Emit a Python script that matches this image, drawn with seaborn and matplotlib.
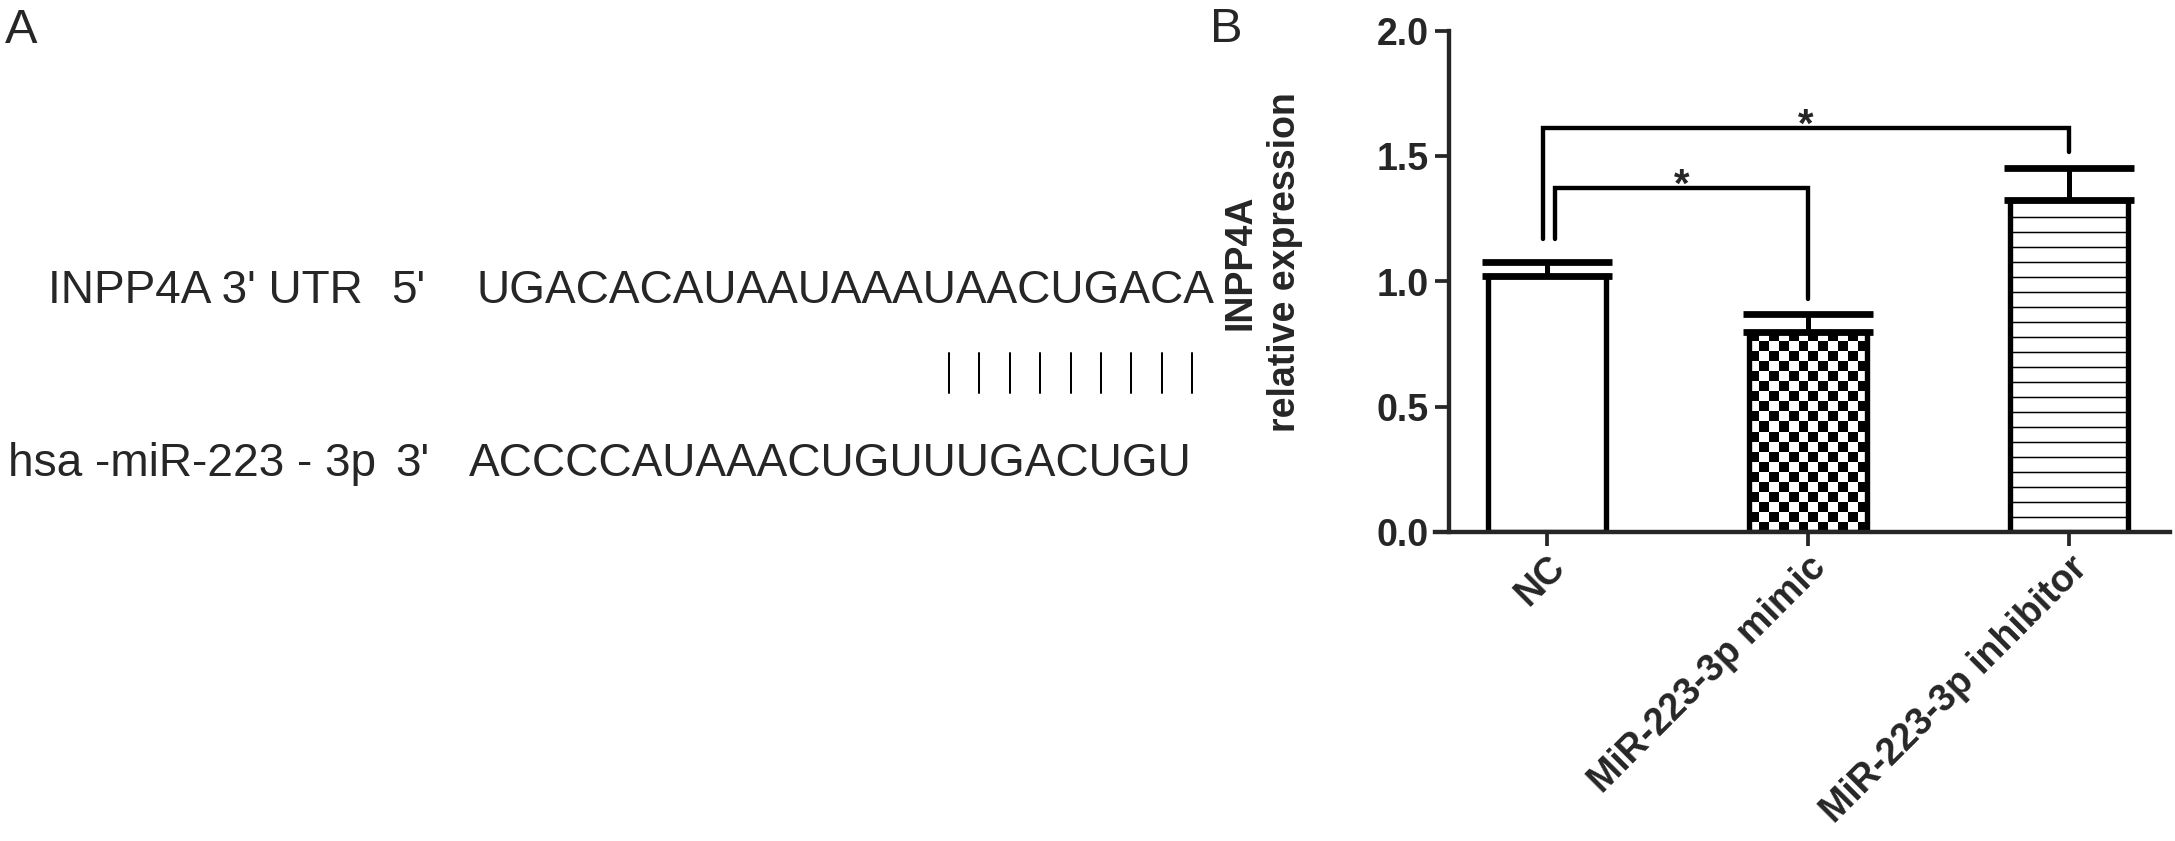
import numpy as np
import pandas as pd
import matplotlib.pyplot as plt
import seaborn as sns
from matplotlib.lines import Line2D
from matplotlib.ticker import FormatStrFormatter

# panel B data: mean relative expression and upper error (SEM)
groups = ["NC", "MiR-223-3p mimic", "MiR-223-3p inhibitor"]
means = [1.02, 0.80, 1.325]
sem = [0.057, 0.071, 0.129]

# significance brackets: (left bar, right bar), bracket height, leg ends
pairs = [(0, 2), (0, 1)]
bracket_y = [1.613, 1.373]
leg_left_end = [1.17, 1.17]
leg_right_end = [1.517, 0.93]
leg_left_shift = [-0.015, 0.03]
stars = ["*", "*"]

# panel A text
utr_label = "INPP4A 3' UTR"
utr_end = "5'"
utr_seq = "UGACACAUAAUAAAUAACUGACA"
mir_label = "hsa -miR-223 - 3p"
mir_end = "3'"
mir_seq = "ACCCCAUAAACUGUUUGACUGU"
n_pairs = 9

W, H, DPI = 2175, 841, 90
sns.set_style("ticks")
plt.rcParams["font.family"] = ["Liberation Sans", "DejaVu Sans"]
plt.rcParams["hatch.linewidth"] = 1.2
plt.rcParams["hatch.color"] = "black"

fig = plt.figure(figsize=(W / DPI, H / DPI), dpi=DPI, facecolor="white")
ax = fig.add_axes([1449 / W, 309 / H, (2170 - 1449) / W, (810 - 309) / H])

df = pd.DataFrame({"group": groups, "mean": means, "sem": sem})
sns.barplot(data=df, x="group", y="mean", order=groups, color="white", saturation=1,
            width=0.455, edgecolor="black", linewidth=4.3, errorbar=None, ax=ax)

ax.set_xlim(-0.3755, 2.387)
ax.set_ylim(0, 2)

bars = ax.patches
bars[2].set_hatch("-")

# checkerboard fill for the mimic bar
b = bars[1]
bx, bw, bh = b.get_x(), b.get_width(), b.get_height()
px_x = ax.transData.transform((1, 0))[0] - ax.transData.transform((0, 0))[0]
px_y = ax.transData.transform((0, 1))[1] - ax.transData.transform((0, 0))[1]
ncols = int(round(bw * px_x / 10))
nrows = int(round(bh * px_y / 10))
checker = np.add.outer(np.arange(nrows), np.arange(ncols)) % 2
b.set_facecolor("none")
im = ax.imshow(checker, cmap="gray_r", vmin=0, vmax=1, extent=[bx, bx + bw, 0, bh],
               origin="lower", interpolation="nearest", aspect="auto", zorder=0.5)
im.set_clip_path(b)
ax.set_xlim(-0.3755, 2.387)
ax.set_ylim(0, 2)

ax.errorbar(range(len(groups)), means, yerr=[np.zeros(len(groups)), sem], fmt="none",
            ecolor="black", elinewidth=4, capsize=52, capthick=5.4, zorder=3)

for (i, j), y, le, re, sh, s in zip(pairs, bracket_y, leg_left_end, leg_right_end,
                                    leg_left_shift, stars):
    xl = i + sh
    ax.plot([xl, xl, j, j], [le, y, y, re], color="black", lw=3.5,
            solid_joinstyle="miter", zorder=3)
    ax.text((xl + j) / 2, y - 0.035, s, ha="center", va="baseline",
            fontsize=32, fontweight="bold")

sns.despine(ax=ax)
for side in ["left", "bottom"]:
    ax.spines[side].set_linewidth(3.5)
ax.spines["bottom"].set_bounds(-0.3755 - 14 / px_x, 2.387)
ax.spines["left"].set_bounds(0, 2)

ax.set_yticks([0, 0.5, 1.0, 1.5, 2.0])
ax.yaxis.set_major_formatter(FormatStrFormatter("%.1f"))
ax.tick_params(axis="both", width=3, length=11, direction="out", labelsize=30)
ax.tick_params(axis="y", pad=5)
ax.tick_params(axis="x", pad=3)
for lbl in ax.get_yticklabels():
    lbl.set_fontweight("bold")
ax.set_xticks(range(len(groups)))
ax.set_xticklabels(groups, rotation=45, ha="right", va="top",
                   rotation_mode="anchor", fontweight="bold")
ax.set_xlabel("")
ax.set_ylabel("INPP4A\nrelative expression", fontsize=30, fontweight="bold",
              linespacing=1.3)
ax.yaxis.set_label_coords(-0.2025, 0.539)

# panel A: sequence alignment, one font size fitted to the UTR sequence width
renderer = fig.canvas.get_renderer()
probe = fig.text(0, 0, utr_seq, fontsize=40)
seq_fs = 40 * 740 / probe.get_window_extent(renderer).width
probe.remove()


def put_text(x_px, base_px, s):
    fig.text(x_px / W, 1 - base_px / H, s, fontsize=seq_fs, ha="left", va="baseline")


put_text(48, 303, utr_label)
put_text(391, 303, utr_end)
put_text(476, 303, utr_seq)
put_text(8, 476, mir_label)
put_text(395, 476, mir_end)
put_text(469, 476, mir_seq)

for x in np.linspace(949, 1192, n_pairs):
    fig.add_artist(Line2D([x / W, x / W], [1 - 353 / H, 1 - 393 / H],
                          transform=fig.transFigure, color="black", lw=1.6))

fig.text(5 / W, 1 - 43 / H, "A", fontsize=39, ha="left", va="baseline")
fig.text(1210 / W, 1 - 42 / H, "B", fontsize=39, ha="left", va="baseline")

fig.savefig("out.png", dpi=DPI, facecolor="white")
